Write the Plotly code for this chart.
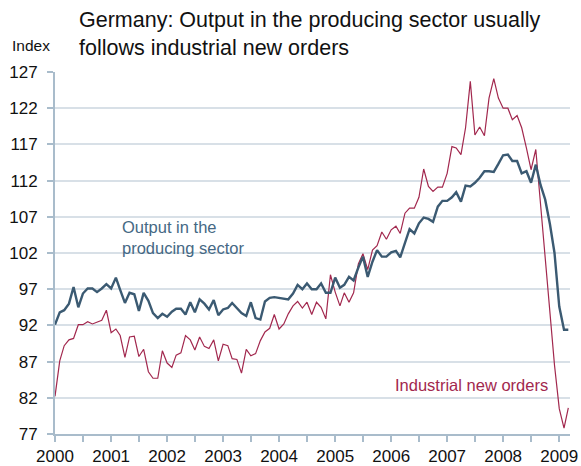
import pandas as pd
import plotly.graph_objects as go

# Monthly index values, Jan 2000 - Mar 2009
months = pd.date_range("2000-01-01", periods=111, freq="MS")

output_producing = [
    92.1, 93.8, 94.1, 95.0, 97.3, 94.5, 96.4, 97.1, 97.1, 96.6, 97.1, 97.7,
    97.1, 98.6, 96.9, 95.1, 96.5, 96.3, 94.0, 96.5, 95.4, 93.7, 93.0, 93.6,
    93.2, 93.9, 94.3, 94.3, 93.5, 95.2, 93.8, 95.6, 95.0, 94.2, 95.5, 93.4,
    94.2, 94.4, 95.1, 94.4, 93.7, 93.3, 95.2, 93.0, 92.8, 95.3, 95.8, 95.9,
    95.8, 95.6, 95.6, 96.4, 97.6, 97.0, 97.8, 97.0, 97.0, 97.8, 96.5, 96.5,
    98.6, 97.2, 97.6, 98.7, 98.2, 100.0, 101.5, 98.7, 100.8, 102.4, 101.5, 101.5,
    102.1, 102.3, 101.4, 103.4, 105.3, 104.7, 106.1, 106.9, 106.7, 106.3, 108.4, 109.2,
    109.2, 109.7, 110.4, 109.1, 111.3, 111.2, 111.7, 112.4, 113.3, 113.3, 113.2, 114.3,
    115.5, 115.6, 114.7, 114.7, 113.0, 113.3, 111.7, 114.2, 111.4, 109.4, 106.0, 102.0,
    94.6, 91.4, 91.4,
]

industrial_orders = [
    82.2, 87.1, 89.2, 90.0, 90.2, 92.1, 92.1, 92.5, 92.2, 92.4, 92.7, 94.1,
    91.0, 91.5, 90.6, 87.6, 90.4, 90.5, 87.7, 88.7, 85.6, 84.7, 84.7, 88.5,
    86.8, 86.2, 87.9, 88.2, 90.6, 90.0, 88.6, 90.4, 89.1, 88.8, 90.0, 87.1,
    89.4, 89.2, 87.4, 87.3, 85.4, 88.7, 87.8, 88.1, 89.9, 91.1, 91.6, 93.5,
    91.5, 92.2, 93.6, 94.7, 95.3, 94.4, 95.2, 93.5, 95.2, 94.5, 92.9, 99.0,
    96.6, 94.7, 96.5, 95.2, 96.5, 100.5, 101.9, 99.7, 102.4, 103.0, 104.9, 103.9,
    105.2, 105.7, 104.7, 107.5, 108.2, 108.2, 109.7, 113.6, 111.2, 110.5, 111.1, 111.1,
    113.0, 116.7, 116.5, 115.6, 119.3, 125.7, 118.3, 119.4, 118.2, 123.4, 126.1, 123.4,
    122.0, 122.0, 120.4, 121.0, 119.3, 116.5, 113.5, 116.3, 108.5, 101.0, 93.5, 86.5,
    80.5, 77.8, 80.6,
]

year_ticks = [f"{y}-01-01" for y in range(2000, 2010)]
year_labels = [str(y) for y in range(2000, 2010)]
y_ticks = [77, 82, 87, 92, 97, 102, 107, 112, 117, 122, 127]

BLUE = "#3b5a72"
BLUE_TXT = "#456884"
RED = "#a2284e"
AXIS = "#a9bccb"
GRID = "#d8e0e7"
FONT = "Liberation Sans, Arial, sans-serif"

fig = go.Figure()
fig.add_trace(go.Scatter(x=months, y=industrial_orders, mode="lines",
                         line=dict(color=RED, width=1.2), name="Industrial new orders"))
fig.add_trace(go.Scatter(x=months, y=output_producing, mode="lines",
                         line=dict(color=BLUE, width=2.4), name="Output in the producing sector"))

fig.update_layout(
    width=581, height=466,
    margin=dict(l=55, r=11, t=72, b=32),
    paper_bgcolor="white", plot_bgcolor="white",
    showlegend=False,
    font=dict(family=FONT, color="#111111", size=17),
)

fig.update_xaxes(
    range=["2000-01-01", "2009-03-12"],
    tickvals=year_ticks, ticktext=year_labels,
    ticks="outside", ticklen=6, tickwidth=1.5, tickcolor=AXIS,
    minor=dict(dtick="M6", tick0="2000-01-01", ticks="outside", ticklen=6,
               tickwidth=1.5, tickcolor=AXIS, showgrid=False),
    showline=True, linecolor=AXIS, linewidth=2,
    showgrid=False, zeroline=False, automargin=False,
    tickfont=dict(size=17, family=FONT, color="#111111"),
    ticklabelstandoff=0,
)
fig.update_yaxes(
    range=[77, 127], tickvals=y_ticks,
    ticks="outside", ticklen=6, tickwidth=1.5, tickcolor=AXIS,
    showline=True, linecolor=AXIS, linewidth=2,
    showgrid=True, gridcolor=GRID, gridwidth=1.5, zeroline=False, automargin=False,
    tickfont=dict(size=17, family=FONT, color="#111111"),
    ticklabelstandoff=6,
)

def px_x(px):
    return (px - 55) / 515

def px_y(py):
    return (434.3 - py) / 362

fig.add_annotation(x=px_x(77), y=px_y(34), xref="paper", yref="paper",
                   xanchor="left", yanchor="middle", align="left", showarrow=False,
                   text="Germany: Output in the producing sector usually<br>follows industrial new orders",
                   font=dict(size=21.5, family=FONT, color="#111111"))
fig.add_annotation(x=px_x(10), y=px_y(46), xref="paper", yref="paper",
                   xanchor="left", yanchor="middle", showarrow=False,
                   text="Index", font=dict(size=15.5, family=FONT, color="#111111"))
fig.add_annotation(x=px_x(120), y=px_y(238), xref="paper", yref="paper",
                   xanchor="left", yanchor="middle", align="left", showarrow=False,
                   text="Output in the<br>producing sector",
                   font=dict(size=16.5, family=FONT, color=BLUE_TXT))
fig.add_annotation(x=px_x(393), y=px_y(385), xref="paper", yref="paper",
                   xanchor="left", yanchor="middle", align="left", showarrow=False,
                   text="Industrial new orders",
                   font=dict(size=16.5, family=FONT, color=RED))

# remove the browser's default 8px page margin so the figure sits at the window origin
fig.write_html("out.html", config={"displayModeBar": False},
               post_script="document.body.style.margin='0';")
